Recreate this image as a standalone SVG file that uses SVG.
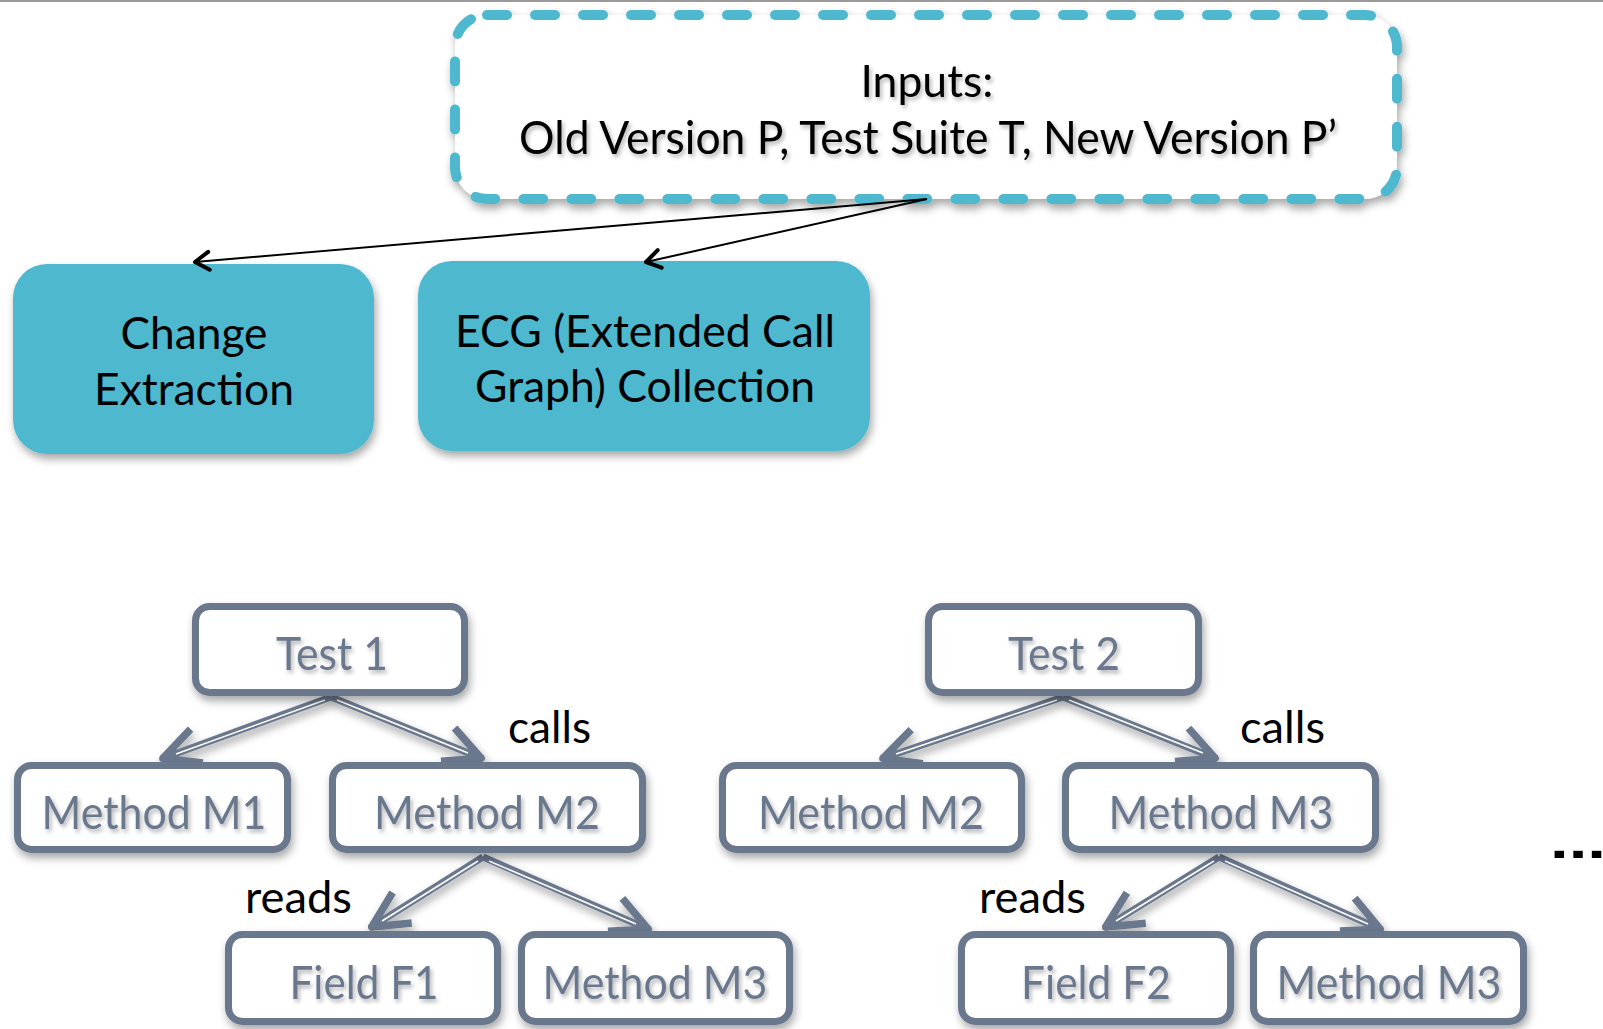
<svg xmlns="http://www.w3.org/2000/svg" width="1603" height="1029" viewBox="0 0 1603 1029">
<style>
  .top { font-family: Lato, "Open Sans", "Liberation Sans", sans-serif; fill: #000; text-anchor: middle; }
  .teal { fill: #4EB8CE; }
  .tbox { fill: #fff; stroke: #6B788E; stroke-width: 7; }
  .ttxt { font-family: Lato, "Open Sans", "Liberation Sans", sans-serif; font-size: 47px; fill: #6B788E; text-anchor: middle; }
  .lbl { font-family: Lato, "Open Sans", "Liberation Sans", sans-serif; font-size: 45px; fill: #000; }
  .edge { fill: none; stroke: #6B788E; stroke-width: 7; }
  .inner { fill: none; stroke: #fff; stroke-width: 1.5; }
  .thin { fill: none; stroke: #000; stroke-width: 2; }
</style>
<defs>
  <filter id="sh" x="-10%" y="-10%" width="130%" height="140%">
    <feDropShadow dx="2" dy="5" stdDeviation="4" flood-color="#000" flood-opacity="0.35"/>
  </filter>
  <filter id="tsh" x="-10%" y="-20%" width="130%" height="160%">
    <feDropShadow dx="2" dy="3" stdDeviation="2" flood-color="#000" flood-opacity="0.3"/>
  </filter>
  <marker id="ah" markerUnits="userSpaceOnUse" markerWidth="40" markerHeight="40" viewBox="-20 -20 40 40" refX="0" refY="0" orient="auto">
    <path d="M -14,-9 L 0,0 L -14,9" fill="none" stroke="#000" stroke-width="4" stroke-linecap="round" stroke-linejoin="round"/>
  </marker>
  <marker id="gh" markerUnits="userSpaceOnUse" markerWidth="90" markerHeight="90" viewBox="-45 -45 90 90" refX="0" refY="0" orient="auto">
    <path d="M -38,-18 L -2,0 L -38,18" fill="none" stroke="#6B788E" stroke-width="7.5" stroke-linejoin="round"/>
  </marker>
</defs>

<rect x="0" y="0" width="1603" height="2" fill="#9A9A9A"/>

<g id="inputs">
  <rect x="455" y="15" width="942" height="184" rx="32" fill="#fff" stroke="#4EB8CE" stroke-width="10" stroke-dasharray="20 28" stroke-linecap="round" filter="url(#sh)"/>
  <text class="top" x="927" y="97" font-size="45" textLength="133" lengthAdjust="spacingAndGlyphs" filter="url(#tsh)">Inputs:</text>
  <text class="top" x="928" y="154" font-size="47" textLength="818" lengthAdjust="spacingAndGlyphs" filter="url(#tsh)">Old Version P, Test Suite T, New Version P’</text>
</g>

<g id="change-extraction">
  <rect class="teal" x="13" y="264" width="361" height="190" rx="34" filter="url(#sh)"/>
  <text class="top" x="194" y="349" font-size="45" textLength="147" lengthAdjust="spacingAndGlyphs">Change</text>
  <text class="top" x="194" y="405" font-size="45" textLength="200" lengthAdjust="spacingAndGlyphs">Extraction</text>
</g>

<g id="ecg-collection">
  <rect class="teal" x="418" y="261" width="452" height="190" rx="34" filter="url(#sh)"/>
  <text class="top" x="645" y="347" font-size="45" textLength="380" lengthAdjust="spacingAndGlyphs">ECG (Extended Call</text>
  <text class="top" x="645" y="402" font-size="45" textLength="340" lengthAdjust="spacingAndGlyphs">Graph) Collection</text>
</g>

<g id="connectors">
  <line class="thin" x1="927" y1="199" x2="195" y2="262" marker-end="url(#ah)"/>
  <line class="thin" x1="927" y1="199" x2="646" y2="262" marker-end="url(#ah)"/>

  <g filter="url(#sh)">
    <line class="edge" x1="331" y1="697" x2="161" y2="759" marker-end="url(#gh)"/>
    <line class="edge" x1="331" y1="697" x2="483" y2="759" marker-end="url(#gh)"/>
    <line class="edge" x1="483" y1="857" x2="370" y2="928" marker-end="url(#gh)"/>
    <line class="edge" x1="483" y1="857" x2="650" y2="930" marker-end="url(#gh)"/>
    <line class="edge" x1="1063" y1="697" x2="881" y2="759" marker-end="url(#gh)"/>
    <line class="edge" x1="1063" y1="697" x2="1217" y2="759" marker-end="url(#gh)"/>
    <line class="edge" x1="1219" y1="857" x2="1104" y2="928" marker-end="url(#gh)"/>
    <line class="edge" x1="1219" y1="857" x2="1382" y2="930" marker-end="url(#gh)"/>
  </g>
  <line class="inner" x1="325" y1="700" x2="176" y2="754"/>
  <line class="inner" x1="337" y1="700" x2="468" y2="753"/>
  <line class="inner" x1="478" y1="861" x2="382" y2="921"/>
  <line class="inner" x1="489" y1="861" x2="636" y2="924"/>
  <line class="inner" x1="1057" y1="700" x2="896" y2="754"/>
  <line class="inner" x1="1069" y1="700" x2="1203" y2="753"/>
  <line class="inner" x1="1214" y1="861" x2="1116" y2="921"/>
  <line class="inner" x1="1225" y1="861" x2="1368" y2="924"/>

  <text class="lbl" x="508" y="743" textLength="83" lengthAdjust="spacingAndGlyphs">calls</text>
  <text class="lbl" x="1240" y="743" textLength="85" lengthAdjust="spacingAndGlyphs">calls</text>
  <text class="lbl" x="245" y="913" textLength="107" lengthAdjust="spacingAndGlyphs">reads</text>
  <text class="lbl" x="979" y="913" textLength="107" lengthAdjust="spacingAndGlyphs">reads</text>
</g>

<g id="test1">
  <rect class="tbox" x="195.5" y="606.5" width="269" height="86" rx="14" filter="url(#sh)"/>
  <text class="ttxt" x="332" y="670" textLength="112" lengthAdjust="spacingAndGlyphs" filter="url(#tsh)">Test 1</text>
</g>
<g id="m1">
  <rect class="tbox" x="17.5" y="765.5" width="270" height="84" rx="14" filter="url(#sh)"/>
  <text class="ttxt" x="154" y="829" textLength="225" lengthAdjust="spacingAndGlyphs" filter="url(#tsh)">Method M1</text>
</g>
<g id="m2-left">
  <rect class="tbox" x="332.5" y="765.5" width="310" height="84" rx="14" filter="url(#sh)"/>
  <text class="ttxt" x="487" y="829" textLength="226" lengthAdjust="spacingAndGlyphs" filter="url(#tsh)">Method M2</text>
</g>
<g id="f1">
  <rect class="tbox" x="228.5" y="934.5" width="269" height="87" rx="14" filter="url(#sh)"/>
  <text class="ttxt" x="364" y="999" textLength="149" lengthAdjust="spacingAndGlyphs" filter="url(#tsh)">Field F1</text>
</g>
<g id="m3-left">
  <rect class="tbox" x="521.5" y="934.5" width="268" height="87" rx="14" filter="url(#sh)"/>
  <text class="ttxt" x="655" y="999" textLength="225" lengthAdjust="spacingAndGlyphs" filter="url(#tsh)">Method M3</text>
</g>

<g id="test2">
  <rect class="tbox" x="928.5" y="606.5" width="270" height="86" rx="14" filter="url(#sh)"/>
  <text class="ttxt" x="1064" y="670" textLength="112" lengthAdjust="spacingAndGlyphs" filter="url(#tsh)">Test 2</text>
</g>
<g id="m2-right">
  <rect class="tbox" x="722.5" y="765.5" width="299" height="84" rx="14" filter="url(#sh)"/>
  <text class="ttxt" x="871" y="829" textLength="226" lengthAdjust="spacingAndGlyphs" filter="url(#tsh)">Method M2</text>
</g>
<g id="m3-mid">
  <rect class="tbox" x="1065.5" y="765.5" width="310" height="84" rx="14" filter="url(#sh)"/>
  <text class="ttxt" x="1221" y="829" textLength="225" lengthAdjust="spacingAndGlyphs" filter="url(#tsh)">Method M3</text>
</g>
<g id="f2">
  <rect class="tbox" x="961.5" y="934.5" width="269" height="87" rx="14" filter="url(#sh)"/>
  <text class="ttxt" x="1096" y="999" textLength="150" lengthAdjust="spacingAndGlyphs" filter="url(#tsh)">Field F2</text>
</g>
<g id="m3-right">
  <rect class="tbox" x="1253.5" y="934.5" width="270" height="87" rx="14" filter="url(#sh)"/>
  <text class="ttxt" x="1389" y="999" textLength="225" lengthAdjust="spacingAndGlyphs" filter="url(#tsh)">Method M3</text>
</g>

<text x="1550" y="858" font-family="Liberation Sans, sans-serif" font-weight="bold" font-size="48" fill="#000" textLength="56" lengthAdjust="spacingAndGlyphs">...</text>
</svg>
